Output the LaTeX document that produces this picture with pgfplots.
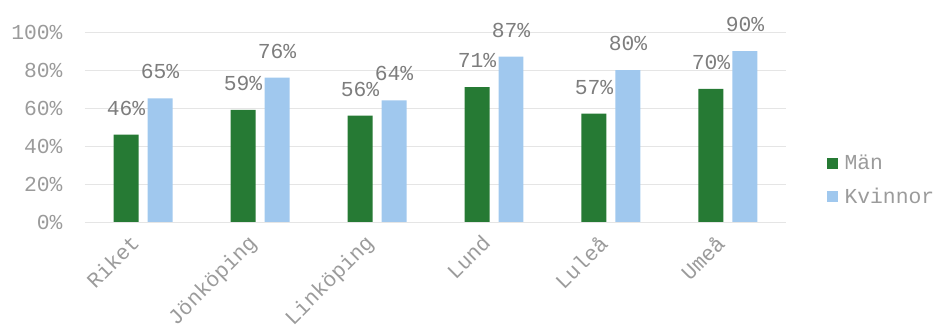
\documentclass[border=0pt]{standalone}
\usepackage{fontspec}
\setmainfont{Liberation Mono}
\usepackage{pgfplots}
\pgfplotsset{compat=1.18}
\definecolor{mgreen}{RGB}{38,122,52}
\definecolor{kblue}{RGB}{160,200,238}
\definecolor{tgray}{RGB}{155,155,155}
\definecolor{lgray}{RGB}{125,125,125}
\begin{document}
\begin{tikzpicture}
\begin{axis}[
  scale only axis,
  width=526.5pt, height=142.5pt,
  /pgf/number format/assume math mode=true,
  font=\fontsize{16}{19}\selectfont,
  xmin=-0.5, xmax=5.5, ymin=0, ymax=100,
  xtick={0,1,2,3,4,5},
  xticklabels={Riket,Jönköping,Linköping,Lund,Luleå,Umeå},
  xticklabel style={rotate=45, anchor=north east, text=tgray, inner sep=2pt, xshift=-11pt, yshift=3pt},
  ytick={0,20,40,60,80,100},
  yticklabel={\pgfmathprintnumber{\tick}\%},
  yticklabel style={text=tgray, xshift=-13pt},
  axis line style={draw=none},
  major tick length=0pt,
  ymajorgrids,
  grid style={draw=black!10, line width=0.6pt},
  ybar, bar width=18.75pt,
  nodes near coords={\pgfmathprintnumber{\pgfplotspointmeta}\%},
  nodes near coords style={text=lgray, anchor=south, yshift=11pt, font=\fontsize{16}{19}\selectfont},
  legend style={at={(1.052,0.22)}, anchor=west, draw=none, fill=none,
    text=tgray, row sep=8pt, font=\fontsize{16}{19}\selectfont,
    /tikz/every even column/.append style={column sep=0pt}},
  legend cell align=left,
  legend image code/.code={\fill[#1] (0pt,-4pt) rectangle (8pt,4pt);},
  legend style={nodes={inner xsep=5pt}},
]
\addplot[fill=mgreen, draw=none, bar shift=-12.75pt] coordinates {(0,46) (1,59) (2,56) (3,71) (4,57) (5,70)};
\addplot[fill=kblue, draw=none, bar shift=12.75pt] coordinates {(0,65) (1,76) (2,64) (3,87) (4,80) (5,90)};
\legend{Män,Kvinnor}
\end{axis}
\pgfresetboundingbox
\path (-63.4pt,-83.25pt) rectangle (639.4pt,166.5pt);
\end{tikzpicture}
\end{document}
